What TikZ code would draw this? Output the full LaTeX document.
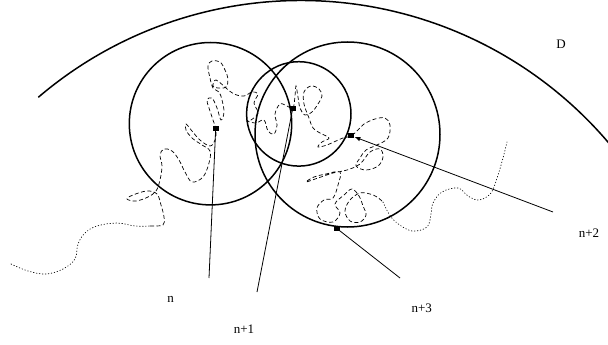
\documentclass[tikz,border=0pt]{standalone}
\usepackage{fontspec}
\setmainfont{Liberation Serif}
\usetikzlibrary{arrows.meta}
\begin{document}
\begin{tikzpicture}[x=1pt,y=1pt,
  ring/.style={line width=1.5pt},
  walk/.style={line width=0.7pt, dash pattern=on 4pt off 2.5pt},
  trail/.style={line width=0.7pt, dash pattern=on 0.7pt off 2.3pt, line cap=round},
  marker/.style={fill=black, inner sep=0pt, minimum width=6pt, minimum height=5pt},
  pointer/.style={line width=0.8pt},
  lbl/.style={font=\fontsize{13}{15}\selectfont, inner sep=0pt}
]
\useasboundingbox (0,-345) rectangle (608,0);
\clip (0,-345) rectangle (608,0);

% domain boundary
\draw[ring] (38.3,-97.3) arc[start angle=130.5, end angle=35, radius=404.1];
\node[lbl] (D) at (561,-44) {D};

% balls
\draw[ring] (210.5,-123.7) circle[radius=81.2];
\draw[ring] (298.8,-113.9) circle[radius=52.2];
\draw[ring] (347.5,-134.5) circle[radius=92.5];

% trajectory
\draw[trail] plot[smooth, tension=0.6] coordinates {(11,-264) (28,-271) (46,-274) (63,-269) (75,-259) (78,-244) (85,-233) (97,-226) (117,-223) (135,-226) (150,-226)};
\draw[walk] plot[smooth, tension=0.6] coordinates {(150,-226) (163,-225) (164,-217) (161,-205) (157,-194) (147,-191) (133,-195) (127,-199) (136,-201) (148,-197) (156,-191) (160,-180) (162,-166) (160,-155) (164,-149) (172,-151) (179,-160) (185,-172) (192,-182) (203,-177) (209,-163) (210,-151) (202,-145) (192,-138) (186,-130) (186,-124) (192,-131) (200,-140) (210,-146) (215,-140) (216,-130) (213,-120) (209,-108) (207,-100) (212,-98) (217,-108) (221,-120) (224,-112) (222,-100) (219,-92) (213,-88) (210,-78) (208,-66) (212,-61) (220,-62) (225,-70) (228,-79) (226,-87) (218,-88) (213,-86) (216,-80) (226,-88) (234,-94) (244,-96) (252,-92) (258,-94) (254,-103) (258,-113) (251,-120) (247,-121) (256,-123) (264,-120) (268,-131) (274,-134) (277,-125) (275,-114) (280,-104) (287,-106) (293,-108) (295,-96) (296,-86) (298,-97) (300,-108) (305,-115) (312,-112) (318,-104) (322,-96) (319,-89) (311,-86) (304,-92) (304,-104) (309,-118) (313,-128) (320,-133) (329,-138) (322,-142) (318,-147) (327,-145) (336,-141) (343,-138) (351,-136) (358,-130) (364,-124) (375,-119) (385,-118) (390,-125) (388,-138) (377,-145) (366,-150) (360,-158) (356,-166) (366,-170) (378,-166) (383,-157) (380,-149) (370,-152) (360,-164) (347,-170) (333,-173) (318,-178) (306,-182) (314,-177) (326,-174) (340,-172) (338,-185) (333,-198) (324,-200) (317,-208) (320,-219) (333,-222) (340,-213) (335,-204) (344,-195) (352,-189) (359,-196) (363,-206) (366,-215) (360,-222) (350,-221) (345,-211) (350,-200) (360,-193) (370,-194) (377,-197) (383,-202)};
\draw[trail] plot[smooth, tension=0.6] coordinates {(383,-202) (389,-214) (397,-223) (412,-231) (427,-227) (431,-214) (433,-203) (442,-192) (458,-188) (468,-196) (479,-200) (491,-193) (498,-175) (503,-158) (507,-142)};

% markers
\node[marker] (m0) at (215.7,-128.7) {};
\node[marker] (m1) at (292.7,-108.7) {};
\node[marker] (m2) at (351.2,-135.7) {};
\node[marker] (m3) at (336.6,-228.3) {};

% label ends
\coordinate (e0) at (209,-278);
\coordinate (e1) at (257,-292);
\coordinate (e2) at (553,-212);
\coordinate (e3) at (400,-278);

\draw[pointer] (m0.center) -- (e0);
\draw[pointer] (m1.center) -- (e1);
\draw[pointer, -{Latex[length=6pt,width=4.5pt]}] (e2) -- (m2);
\draw[pointer] (m3.center) -- (e3);

\node[lbl] (l0) at (170.7,-299) {n};
\node[lbl] (l1) at (244,-329) {n+1};
\node[lbl] (l2) at (589,-232.7) {n+2};
\node[lbl] (l3) at (421.7,-308.3) {n+3};
\end{tikzpicture}
\end{document}
